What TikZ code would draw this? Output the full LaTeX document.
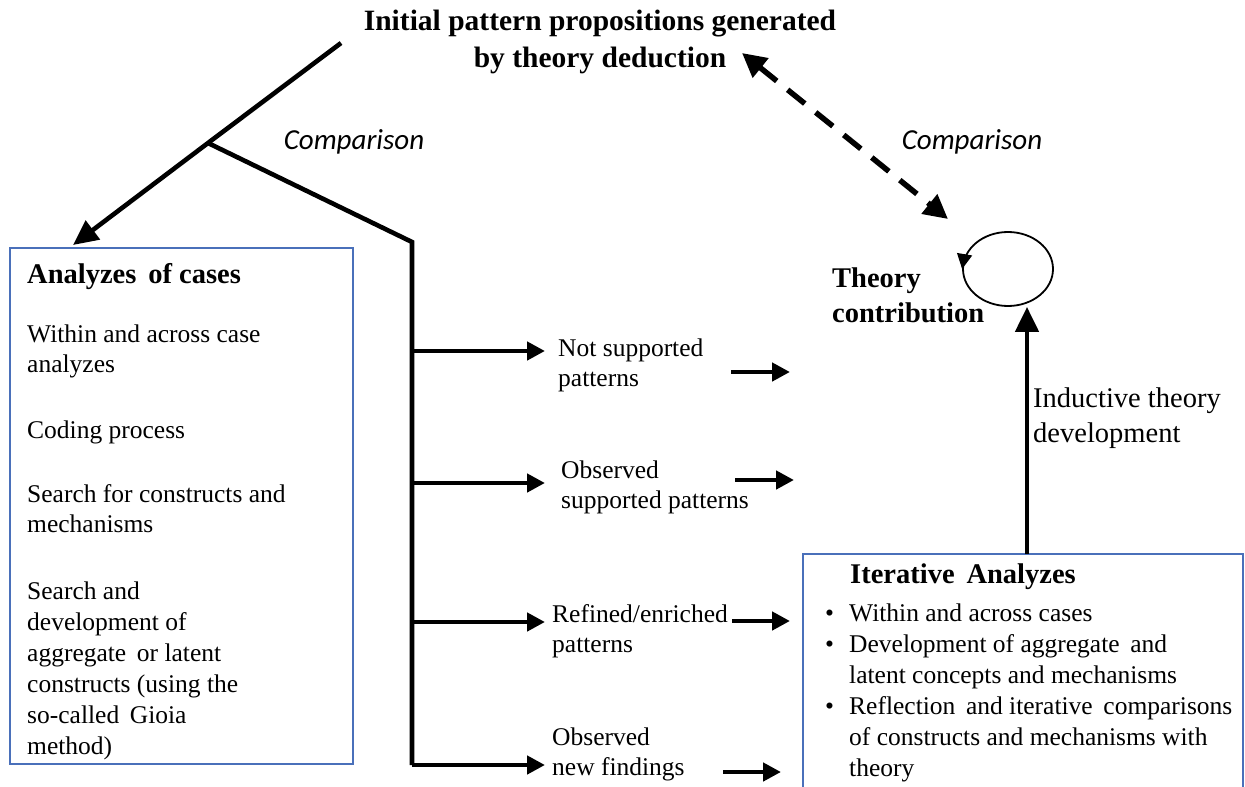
\documentclass[tikz,border=0pt]{standalone}
\usepackage{fontspec}
\setmainfont{Liberation Serif}
\newfontfamily\cmpfont{Carlito}
\usetikzlibrary{arrows.meta,shapes.geometric}
\definecolor{boxblue}{RGB}{74,112,186}
\tikzset{
  body/.style={font=\fontsize{25.5}{30}\selectfont, align=left, inner sep=0pt, anchor=west},
  head/.style={font=\fontsize{28.5}{35}\selectfont\bfseries, align=left, inner sep=0pt, anchor=west},
  cmp/.style={font=\fontsize{29}{34}\selectfont\cmpfont\itshape, inner sep=0pt},
  thick line/.style={line width=4.6pt},
  bigtip/.style={-{Triangle[length=25pt,width=23pt]}},
  smalltip/.style={-{Triangle[length=18pt,width=18pt]}},
  bluebox/.style={draw=boxblue, line width=2pt}
}
\begin{document}
\begin{tikzpicture}[x=1pt,y=-1pt]
\useasboundingbox (0,0) rectangle (1245,787);
\clip (0,0) rectangle (1245,787);

% title
\node[font=\fontsize{29.5}{37}\selectfont\bfseries, align=center, inner sep=0pt] (title) at (600,42)
  {Initial pattern propositions generated\\by theory deduction};

% boxes
\draw[bluebox] (10,248) rectangle (353,764);
\draw[bluebox] (803,554) rectangle (1243,800);

% left box text
\node[head] (anhead) at (27,277) {Analyzes\, of cases};
\node[body] (l1) at (27,351) {Within and across case\\analyzes};
\node[body] (l2) at (27,432) {Coding process};
\node[body] (l3) at (27,509) {Search for constructs and\\mechanisms};
\node[body, font=\fontsize{25.5}{31}\selectfont] (l4) at (27,671) {Search and\\development of\\aggregate\, or latent\\constructs (using the\\so-called\, Gioia\\method)};

% middle texts
\node[body] (m1) at (558,365) {Not supported\\patterns};
\node[body] (m2) at (561,487) {Observed\\supported patterns};
\node[body] (m3) at (552,631) {Refined/enriched\\patterns};
\node[body] (m4) at (552,754) {Observed\\new findings};

% iterative box text
\node[head] (ithead) at (850,577) {Iterative\, Analyzes};
\node[body, anchor=north west, font=\fontsize{25.5}{31}\selectfont] (itlist) at (825,600)
  {\begin{tabular}{@{}p{17pt}@{\hspace{7pt}}l@{}}
   \textbullet & Within and across cases\\
   \textbullet & Development of aggregate\, and\\
               & latent concepts and mechanisms\\
   \textbullet & Reflection\, and iterative\, comparisons\\
               & of constructs and mechanisms with\\
               & theory
   \end{tabular}};

% theory contribution
\node[head] (theory) at (832,295) {Theory\\contribution};
\node[body, font=\fontsize{28.5}{35}\selectfont] (induct) at (1033,418) {Inductive theory\\development};

% comparison labels
\node[cmp] (cmp1) at (354,142) {Comparison};
\node[cmp] (cmp2) at (972,142) {Comparison};

% main connectors
\coordinate (top) at (341,43);
\coordinate (junc) at (208,143);
\coordinate (tipA) at (73,245);
\coordinate (corner) at (412,242);
\coordinate (vbot) at (412,765);
\draw[thick line, bigtip, line join=miter] (top) -- (junc) -- (tipA);
\draw[thick line, line join=miter] (junc) -- (corner) -- (vbot);

\foreach \y/\n in {351/1,483/2,622/3,765/4}{
  \coordinate (bs\n) at (412,\y);
  \coordinate (be\n) at (545,\y);
  \draw[thick line, smalltip] (bs\n) -- (be\n);
}

% small arrows
\coordinate (s1a) at (731,372); \coordinate (s1b) at (790,372);
\coordinate (s2a) at (735,480); \coordinate (s2b) at (794,480);
\coordinate (s3a) at (732,621); \coordinate (s3b) at (790,621);
\coordinate (s4a) at (723,772); \coordinate (s4b) at (781,772);
\draw[thick line, smalltip] (s1a) -- (s1b);
\draw[thick line, smalltip] (s2a) -- (s2b);
\draw[thick line, smalltip] (s3a) -- (s3b);
\draw[thick line, smalltip] (s4a) -- (s4b);

% dashed double arrow
\coordinate (dA) at (742,53);
\coordinate (dB) at (948,219);
\draw[line width=5.5pt, dash pattern=on 22pt off 14pt, {Triangle[length=24pt,width=24pt]}-{Triangle[length=24pt,width=24pt]}] (dA) -- (dB);

% loop
\node[draw, ellipse, line width=1.8pt, minimum width=90pt, minimum height=74pt, inner sep=0pt] (loop) at (1008,269) {};
\draw[line width=1.8pt, -{Triangle[length=15pt,width=15pt]}] (loop.west) ++(2,-12) -- (loop.west);

% up arrow
\coordinate (upS) at (1027,554);
\draw[thick line, bigtip] (upS) -- (loop.south -| upS);
\end{tikzpicture}
\end{document}
